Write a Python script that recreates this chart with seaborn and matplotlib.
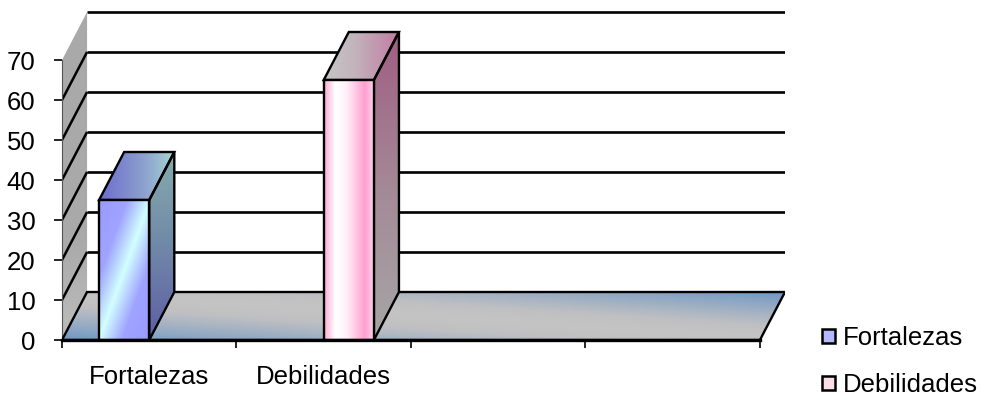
import numpy as np
import pandas as pd
import matplotlib
matplotlib.use("Agg")
import matplotlib.pyplot as plt
from matplotlib.patches import Polygon, Patch, Rectangle
from matplotlib.colors import to_rgb
import seaborn as sns

# --- data -------------------------------------------------------------
categorias = ["Fortalezas", "Debilidades"]
series = ["Fortalezas", "Debilidades"]
valores = [35, 65]              # one value per series, in its own category
y_ticks = [0, 10, 20, 30, 40, 50, 60, 70]
n_slots = 4                     # category slots on the floor (two are empty)

df = pd.DataFrame({"categoria": categorias, "serie": series, "valor": valores})

sns.set_style("white")
plt.rcParams["font.family"] = ["Liberation Sans", "DejaVu Sans"]
plt.rcParams["text.color"] = "black"
plt.rcParams["xtick.color"] = "black"
plt.rcParams["ytick.color"] = "black"

FS = 18.5

fig = plt.figure(figsize=(9.87, 4.0), dpi=100)
ax = fig.add_axes([62 / 987, 60 / 400, 723 / 987, 332 / 400])

# depth of the 3-D box, in data units
DX, DY = 0.1437, 12.0
X0, X1 = -0.5, n_slots - 0.5
YMAX = y_ticks[-1]


def ramp(t, stops):
    t = np.clip(t, 0, 1)
    pos = [p for p, _ in stops]
    cols = np.array([to_rgb(c) for _, c in stops])
    return np.stack([np.interp(t, pos, cols[:, k]) for k in range(3)], axis=-1)


def gradient_fill(verts, func, z, n=200):
    poly = Polygon(verts, closed=True, facecolor="none", edgecolor="none")
    ax.add_patch(poly)
    xs, ys = zip(*verts)
    u, v = np.meshgrid(np.linspace(0, 1, n), np.linspace(0, 1, n))
    img = func(u, v)
    im = ax.imshow(img, extent=[min(xs), max(xs), min(ys), max(ys)],
                   origin="lower", aspect="auto", interpolation="bilinear",
                   zorder=z)
    im.set_clip_path(poly)
    return im


def outline(verts, z, lw=1.7):
    ax.add_patch(Polygon(verts, closed=True, facecolor="none",
                         edgecolor="black", linewidth=lw, zorder=z,
                         joinstyle="miter"))


# --- left side wall ----------------------------------------------------
wall = [(X0, 0), (X0 + DX, DY), (X0 + DX, YMAX + DY), (X0, YMAX)]
gradient_fill(wall, lambda u, v: ramp(v, [(0, "#bdbdbd"), (0.3, "#aaaaaa"), (1, "#a9a9a9")]), 1)
for t in y_ticks[1:-1]:
    ax.plot([X0, X0 + DX], [t, t + DY], color="black", lw=1.8, zorder=2,
            solid_capstyle="butt")

# --- back wall gridlines ----------------------------------------------
for t in y_ticks:
    ax.plot([X0 + DX, X1 + DX], [t + DY, t + DY], color="black", lw=1.9,
            zorder=2, solid_capstyle="butt")

# --- floor -------------------------------------------------------------
floor = [(X0, 0), (X1, 0), (X1 + DX, DY), (X0 + DX, DY)]


def floor_grad(u, v):
    s = np.abs(u + v - 1.0) ** 1.2
    return ramp(s, [(0, "#c4c4c4"), (0.2, "#c0c0c2"), (1, "#6f98c4")])


gradient_fill(floor, floor_grad, 3)
outline(floor, 3.1)

# --- bars (front faces from seaborn) -----------------------------------
sns.barplot(data=df, x="categoria", y="valor", hue="serie", order=categorias,
            hue_order=series, width=0.575, dodge=True, gap=0,
            palette={"Fortalezas": "#9c9cff", "Debilidades": "#ffc0dd"},
            edgecolor="black", linewidth=1.7, saturation=1, errorbar=None,
            legend=False, ax=ax)

front_grads = {
    "Fortalezas": lambda u, v: ramp(np.abs(u - v) * 1.0,
                                    [(0, "#d2ffff"), (0.45, "#a0a4ff"), (1, "#9a9aff")]),
    "Debilidades": lambda u, v: ramp(u, [(0, "#ffa8d4"), (0.22, "#ffffff"),
                                         (0.45, "#fff0f8"), (0.8, "#ff9fd0"),
                                         (1, "#ffd8ec")]),
}
top_grads = {
    "Fortalezas": lambda u, v: ramp(u, [(0, "#6c6cd0"), (0.55, "#8a9ccc"), (1, "#a6d4d4")]),
    "Debilidades": lambda u, v: ramp(u, [(0, "#c6c6c6"), (0.4, "#c2b4bc"), (1, "#c27aa2")]),
}
side_grads = {
    "Fortalezas": lambda u, v: ramp(v, [(0, "#5e5ea6"), (0.5, "#7088a8"), (1, "#86acac")]),
    "Debilidades": lambda u, v: ramp(v, [(0, "#a6a6a6"), (0.45, "#a48c98"), (1, "#a05e82")]),
}

bars = [p for p in ax.patches
        if isinstance(p, Rectangle) and p.get_height() > 0 and p.get_width() < 1]
bars = sorted(bars, key=lambda p: p.get_x())
for serie, bar in zip(series, bars):
    x0, w, h = bar.get_x(), bar.get_width(), bar.get_height()
    x1 = x0 + w
    front = [(x0, 0), (x1, 0), (x1, h), (x0, h)]
    side = [(x1, 0), (x1 + DX, DY), (x1 + DX, h + DY), (x1, h)]
    top = [(x0, h), (x1, h), (x1 + DX, h + DY), (x0 + DX, h + DY)]
    gradient_fill(side, side_grads[serie], 5)
    gradient_fill(top, top_grads[serie], 5)
    outline(side, 6)
    outline(top, 6)
    gradient_fill(front, front_grads[serie], 7)
    bar.set_facecolor("none")
    bar.set_zorder(8)

# --- axes, ticks, labels -----------------------------------------------
ax.set_xlim(X0, X1 + DX)
ax.set_ylim(0, YMAX + DY + 1)
for s in ["top", "right"]:
    ax.spines[s].set_visible(False)
ax.spines["left"].set_bounds(0, YMAX)
ax.spines["left"].set_color("#555555")
ax.spines["left"].set_linewidth(0.8)
ax.spines["bottom"].set_bounds(X0, X1)
ax.spines["bottom"].set_color("black")
ax.spines["bottom"].set_linewidth(2.4)
ax.spines["bottom"].set_zorder(9)

ax.set_yticks(y_ticks)
ax.set_yticklabels([str(t) for t in y_ticks])
ax.tick_params(axis="y", direction="out", length=6, width=1.2, color="black",
               pad=13, labelsize=FS, left=True)

ax.set_xticks(np.arange(X0, X1 + 0.01, 1.0))
ax.set_xticklabels([])
ax.tick_params(axis="x", which="major", direction="out", length=6, width=1.2,
               color="black", bottom=True)
ax.set_xticks(range(len(categorias)), minor=True)
ax.set_xticklabels(categorias, minor=True)
ax.tick_params(axis="x", which="minor", length=0, pad=18, labelsize=FS)
ax.set_xlabel("")
ax.set_ylabel("")
ax.set_facecolor("none")

# --- legend --------------------------------------------------------------
handles = [Patch(facecolor="#b4b8ff", edgecolor="black", linewidth=1.8, label=series[0]),
           Patch(facecolor="#fbdde9", edgecolor="black", linewidth=1.8, label=series[1])]
fig.legend(handles=handles, loc="upper left", bbox_to_anchor=(822 / 987, 1 - 326 / 400),
           frameon=False, fontsize=FS, handlelength=0.5, handleheight=0.5,
           handletextpad=0.3, labelspacing=0.9, borderpad=0, borderaxespad=0)

fig.savefig("out.png", dpi=100, facecolor="white")
